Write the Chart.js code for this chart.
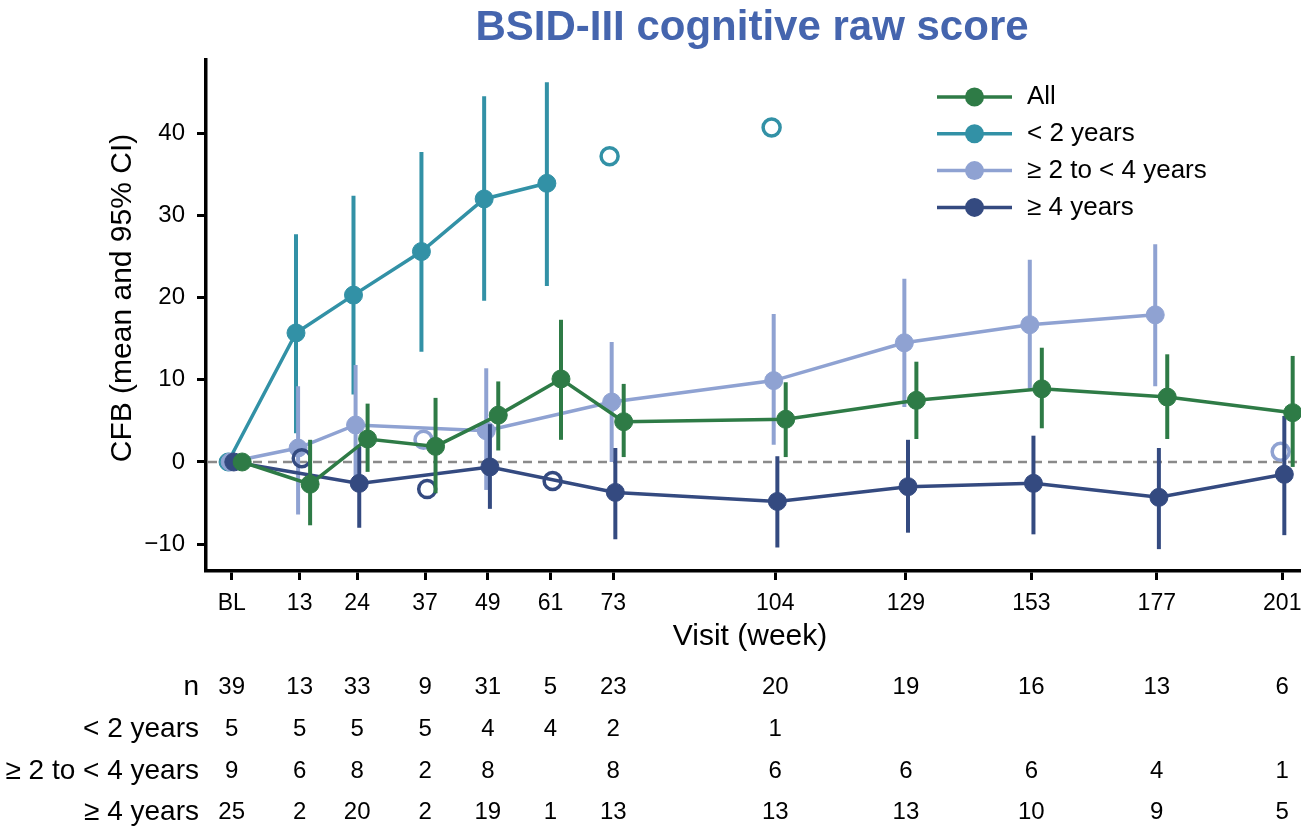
<!DOCTYPE html>
<html>
<head>
<meta charset="utf-8">
<script src="https://cdn.jsdelivr.net/npm/chart.js@4/dist/chart.umd.min.js"></script>
<style>
  html, body { margin: 0; padding: 0; background: #fff; }
  #wrap { position: relative; width: 1301px; height: 828px; }
</style>
</head>
<body>
<div id="wrap"><canvas id="chart" width="1301" height="828"></canvas></div>
<script>
// Visit weeks (BL = week 0) and their axis labels
const weeks = [0, 13, 24, 37, 49, 61, 73, 104, 129, 153, 177, 201];
const weekLabels = ['BL', '13', '24', '37', '49', '61', '73', '104', '129', '153', '177', '201'];
const yTicks = [-10, 0, 10, 20, 30, 40];

// Change from baseline: mean, lower and upper 95% CI, and subjects per visit
const allMean = [0, -2.7, 2.8, 1.9, 5.7, 10.1, 4.9, 5.2, 7.5, 8.9, 7.9, 6.0];
const allLow  = [null, -7.7, -1.2, -3.8, 1.4, 2.7, 0.6, 0.6, 2.8, 4.1, 2.8, -0.6];
const allHigh = [null, 2.7, 7.1, 7.8, 9.8, 17.3, 9.5, 9.7, 12.2, 13.9, 13.1, 12.9];
const allN    = [39, 13, 33, 9, 31, 5, 23, 20, 19, 16, 13, 6];

const under2Mean = [0, 15.7, 20.3, 25.6, 32.0, 33.9, 37.2, 40.7, null, null, null, null];
const under2Low  = [null, 3.5, 8.2, 13.4, 19.6, 21.4, null, null, null, null, null, null];
const under2High = [null, 27.7, 32.4, 37.7, 44.5, 46.2, null, null, null, null, null, null];
const under2N    = [5, 5, 5, 5, 4, 4, 2, 1, null, null, null, null];

const age2to4Mean = [0, 1.7, 4.5, 2.7, 3.8, null, 7.3, 9.9, 14.5, 16.7, 17.9, 1.25];
const age2to4Low  = [null, -6.4, -3.0, null, -3.4, null, 0.0, 2.1, 6.7, 8.9, 9.2, null];
const age2to4High = [null, 9.2, 11.8, null, 11.4, null, 14.6, 18.0, 22.3, 24.6, 26.5, null];
const age2to4N    = [9, 6, 8, 2, 8, null, 8, 6, 6, 6, 4, 1];

const over4Mean = [0, 0.45, -2.6, -3.3, -0.6, -2.3, -3.7, -4.8, -3.0, -2.6, -4.3, -1.5];
const over4Low  = [null, null, -8.0, null, -5.7, null, -9.4, -10.4, -8.6, -8.8, -10.6, -8.9];
const over4High = [null, null, 1.9, null, 4.6, null, 1.7, 0.7, 2.7, 3.2, 1.7, 5.6];
const over4N    = [25, 2, 20, 2, 19, 1, 13, 13, 13, 10, 9, 5];

const seriesNames = ['All', '< 2 years', '\u2265 2 to < 4 years', '\u2265 4 years'];
const tableRowNames = ['n', '< 2 years', '\u2265 2 to < 4 years', '\u2265 4 years'];

const FONT = '"Liberation Sans", Arial, Helvetica, sans-serif';

const series = [
  { name: seriesNames[0], mean: allMean, low: allLow, high: allHigh, n: allN, color: '#2e7b46', shift: 2.0, order: 0 },
  { name: seriesNames[1], mean: under2Mean, low: under2Low, high: under2High, n: under2N, color: '#3291a6', shift: -0.7, order: 3 },
  { name: seriesNames[2], mean: age2to4Mean, low: age2to4Low, high: age2to4High, n: age2to4N, color: '#8fa2d2', shift: -0.3, order: 2 },
  { name: seriesNames[3], mean: over4Mean, low: over4Low, high: over4High, n: over4N, color: '#344a80', shift: 0.4, order: 1 }
];

// Visits with fewer than 3 subjects are shown as open circles, off the connecting line
const datasets = [];
series.forEach((s) => {
  const filled = [], open = [], ci = [];
  weeks.forEach((w, i) => {
    if (s.mean[i] === null) return;
    const pt = { x: w + s.shift, y: s.mean[i] };
    if (s.n[i] >= 3) filled.push(pt); else open.push(pt);
    if (s.low[i] !== null) ci.push({ x: w + s.shift, lo: s.low[i], hi: s.high[i] });
  });
  datasets.push({
    label: s.name, data: filled, ci: ci, legendItem: true,
    borderColor: s.color, backgroundColor: s.color,
    borderWidth: 3.5, pointRadius: 9, pointHoverRadius: 9, pointBorderWidth: 1,
    pointBackgroundColor: s.color, pointBorderColor: s.color,
    showLine: true, tension: 0, clip: false, order: s.order
  });
  datasets.push({
    label: s.name + ' (n < 3)', data: open,
    borderColor: s.color, backgroundColor: 'rgba(0,0,0,0)',
    pointRadius: 8.5, pointHoverRadius: 8.5, pointBorderWidth: 3.5,
    pointBackgroundColor: 'rgba(0,0,0,0)', pointBorderColor: s.color,
    showLine: false, clip: false, order: s.order + 0.5
  });
});

function drawText(ctx, s, x, y, font, color, align, baseline) {
  ctx.save();
  ctx.font = font;
  ctx.fillStyle = color || '#000';
  ctx.textAlign = align || 'center';
  ctx.textBaseline = baseline || 'middle';
  ctx.fillText(s, x, y);
  ctx.restore();
}

// Confidence interval whiskers, drawn just beneath their own series
const ciPlugin = {
  id: 'ciBars',
  beforeDatasetDraw(chart, args) {
    const ds = chart.data.datasets[args.index];
    if (!ds.ci) return;
    const { ctx, scales: { x, y } } = chart;
    ctx.save();
    ctx.strokeStyle = ds.borderColor;
    ctx.lineWidth = 4;
    ctx.lineCap = 'butt';
    ds.ci.forEach(c => {
      const px = x.getPixelForValue(c.x);
      ctx.beginPath();
      ctx.moveTo(px, y.getPixelForValue(c.lo));
      ctx.lineTo(px, y.getPixelForValue(c.hi));
      ctx.stroke();
    });
    ctx.restore();
  }
};

// Dashed reference line at zero change
const zeroLinePlugin = {
  id: 'zeroLine',
  beforeDatasetsDraw(chart) {
    const { ctx, chartArea, scales: { y } } = chart;
    const py = y.getPixelForValue(0);
    ctx.save();
    ctx.strokeStyle = '#8a8a8a';
    ctx.lineWidth = 2.5;
    ctx.setLineDash([9, 6]);
    ctx.beginPath();
    ctx.moveTo(chartArea.left + 2, py);
    ctx.lineTo(chartArea.right, py);
    ctx.stroke();
    ctx.restore();
  }
};

// Title, axis titles, legend and the subject count table
const annotationsPlugin = {
  id: 'annotations',
  afterDraw(chart) {
    const { ctx, chartArea, scales: { x } } = chart;
    const midX = (chartArea.left + chartArea.right) / 2;
    drawText(ctx, 'BSID-III cognitive raw score', midX - 1, 28, 'bold 42px ' + FONT, '#4565ae');
    drawText(ctx, 'Visit (week)', midX - 3, 637, '30px ' + FONT, '#000');

    ctx.save();
    ctx.translate(123, 298);
    ctx.rotate(-Math.PI / 2);
    drawText(ctx, 'CFB (mean and 95% CI)', 0, 0, '30px ' + FONT, '#000');
    ctx.restore();

    // legend
    const lx = 937, ly = 97, gap = 36.8, len = 75;
    chart.data.datasets.filter(d => d.legendItem).forEach((d, i) => {
      const yy = ly + i * gap;
      ctx.save();
      ctx.strokeStyle = d.borderColor;
      ctx.lineWidth = 3.5;
      ctx.beginPath();
      ctx.moveTo(lx, yy);
      ctx.lineTo(lx + len, yy);
      ctx.stroke();
      ctx.fillStyle = d.borderColor;
      ctx.beginPath();
      ctx.arc(lx + len / 2, yy, 9.5, 0, Math.PI * 2);
      ctx.fill();
      ctx.restore();
      drawText(ctx, d.label, lx + len + 15, yy, '26px ' + FONT, '#000', 'left');
    });

    // subjects per visit
    const rows = [allN, under2N, age2to4N, over4N];
    const rowY = [687, 729, 771, 812];
    rows.forEach((r, k) => {
      drawText(ctx, tableRowNames[k], 199, rowY[k], '28px ' + FONT, '#000', 'right');
      weeks.forEach((w, i) => {
        if (r[i] === null) return;
        drawText(ctx, String(r[i]), x.getPixelForValue(w), rowY[k], '24px ' + FONT, '#000', 'center');
      });
    });
  }
};

new Chart(document.getElementById('chart'), {
  type: 'scatter',
  data: { datasets: datasets },
  plugins: [ciPlugin, zeroLinePlugin, annotationsPlugin],
  options: {
    responsive: false,
    animation: false,
    events: [],
    layout: { autoPadding: false, padding: { top: 60, right: 1, bottom: 212, left: 0 } },
    plugins: { legend: { display: false }, title: { display: false }, tooltip: { enabled: false } },
    scales: {
      x: {
        type: 'linear', min: -4.92, max: 204.4,
        afterBuildTicks: s => { s.ticks = weeks.map(v => ({ value: v })); },
        afterFit: s => { s.height = 45; s.paddingLeft = 0; s.paddingRight = 0; },
        ticks: {
          autoSkip: false, maxRotation: 0, padding: 10, color: '#000',
          font: { family: FONT, size: 23 },
          callback: v => weekLabels[weeks.indexOf(v)]
        },
        grid: { display: true, drawOnChartArea: false, drawTicks: true, tickLength: 9, tickWidth: 3, color: '#000' },
        border: { display: true, width: 3.5, color: '#000' }
      },
      y: {
        type: 'linear', min: -13.26, max: 48.9,
        afterBuildTicks: s => { s.ticks = yTicks.map(v => ({ value: v })); },
        afterFit: s => { s.width = 206; s.paddingTop = 0; s.paddingBottom = 0; },
        ticks: {
          padding: 12, color: '#000',
          font: { family: FONT, size: 24 },
          callback: v => (v < 0 ? '\u2212' + Math.abs(v) : String(v))
        },
        grid: { display: true, drawOnChartArea: false, drawTicks: true, tickLength: 9, tickWidth: 3, color: '#000' },
        border: { display: true, width: 3.5, color: '#000' }
      }
    }
  }
});
</script>
</body>
</html>
